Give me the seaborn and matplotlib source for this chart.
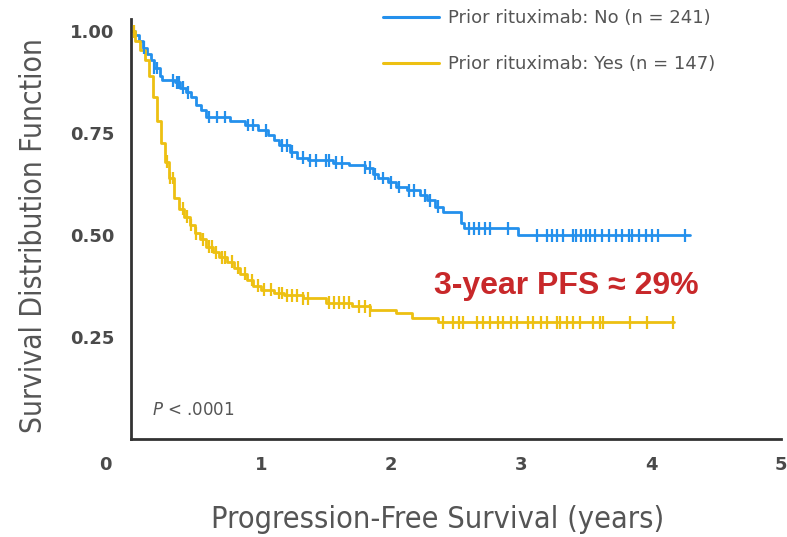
import numpy as np
import pandas as pd
import matplotlib
matplotlib.use("Agg")
import matplotlib.pyplot as plt
from matplotlib import font_manager as fm
import seaborn as sns

# Kaplan-Meier step curves: knot times (years) and survival after each step
no_times = [0.00, 0.03, 0.06, 0.09, 0.12, 0.15, 0.18, 0.22, 0.24, 0.34, 0.38, 0.42,
            0.46, 0.50, 0.54, 0.58, 0.76, 0.88, 0.98, 1.05, 1.10, 1.14, 1.22, 1.28,
            1.36, 1.55, 1.68, 1.80, 1.86, 1.90, 1.98, 2.04, 2.12, 2.22, 2.28, 2.34,
            2.40, 2.54, 2.56, 2.98, 4.30]
no_surv = [1.000, 0.990, 0.975, 0.960, 0.945, 0.930, 0.910, 0.890, 0.880, 0.875, 0.862, 0.850,
           0.838, 0.820, 0.806, 0.790, 0.780, 0.770, 0.757, 0.745, 0.733, 0.720, 0.705, 0.690,
           0.684, 0.678, 0.672, 0.665, 0.650, 0.640, 0.630, 0.618, 0.610, 0.598, 0.585, 0.570,
           0.556, 0.530, 0.517, 0.500, 0.500]

yes_times = [0.00, 0.03, 0.07, 0.11, 0.14, 0.17, 0.20, 0.23, 0.26, 0.29, 0.33, 0.37,
             0.41, 0.45, 0.49, 0.53, 0.58, 0.63, 0.68, 0.74, 0.79, 0.84, 0.89, 0.94,
             1.00, 1.10, 1.18, 1.32, 1.50, 1.70, 1.84, 2.04, 2.16, 2.36, 4.18]
yes_surv = [1.000, 0.975, 0.955, 0.930, 0.890, 0.840, 0.780, 0.725, 0.680, 0.640, 0.590, 0.565,
            0.545, 0.525, 0.505, 0.490, 0.472, 0.458, 0.446, 0.435, 0.420, 0.405, 0.390, 0.376,
            0.366, 0.358, 0.352, 0.345, 0.334, 0.325, 0.316, 0.309, 0.297, 0.286, 0.286]

# Censoring times (years)
no_censor = [0.10, 0.18, 0.20, 0.32, 0.35, 0.37, 0.40, 0.44, 0.60, 0.66, 0.72, 0.90,
             0.94, 1.04, 1.16, 1.20, 1.24, 1.32, 1.38, 1.42, 1.50, 1.52, 1.58, 1.62,
             1.80, 1.84, 1.88, 1.94, 2.00, 2.06, 2.14, 2.18, 2.26, 2.30, 2.36, 2.60,
             2.64, 2.68, 2.72, 2.76, 2.90, 3.12, 3.20, 3.24, 3.28, 3.32, 3.40, 3.42,
             3.46, 3.50, 3.53, 3.57, 3.62, 3.68, 3.73, 3.78, 3.83, 3.85, 3.91, 3.96,
             4.01, 4.05, 4.26]
yes_censor = [0.02, 0.28, 0.30, 0.32, 0.40, 0.43, 0.46, 0.50, 0.55, 0.60, 0.62, 0.65,
              0.70, 0.72, 0.78, 0.82, 0.88, 0.93, 0.98, 1.02, 1.08, 1.14, 1.16, 1.20,
              1.24, 1.28, 1.32, 1.36, 1.52, 1.56, 1.60, 1.64, 1.68, 1.75, 1.80, 1.84,
              2.40, 2.48, 2.52, 2.55, 2.66, 2.71, 2.76, 2.82, 2.86, 2.92, 2.97, 3.05,
              3.09, 3.15, 3.20, 3.28, 3.30, 3.35, 3.40, 3.45, 3.55, 3.61, 3.63, 3.84,
              3.97, 4.17]

groups = ["Prior rituximab: No (n = 241)", "Prior rituximab: Yes (n = 147)"]
colors = ["#2490EC", "#EDC012"]

x_ticks = [1, 2, 3, 4, 5]
y_ticks = [0.25, 0.50, 0.75, 1.00]
y_tick_labels = ["0.25", "0.50", "0.75", "1.00"]


def step_value(times, surv, t):
    idx = np.searchsorted(np.asarray(times), t, side="right") - 1
    return np.asarray(surv)[idx]


curves = pd.concat([
    pd.DataFrame({"time": no_times, "surv": no_surv, "group": groups[0]}),
    pd.DataFrame({"time": yes_times, "surv": yes_surv, "group": groups[1]}),
], ignore_index=True)

marks = pd.concat([
    pd.DataFrame({"time": no_censor,
                  "surv": step_value(no_times, no_surv, no_censor),
                  "group": groups[0]}),
    pd.DataFrame({"time": yes_censor,
                  "surv": step_value(yes_times, yes_surv, yes_censor),
                  "group": groups[1]}),
], ignore_index=True)

sns.set_style("white")

# condensed face for axis titles when available
names = {f.name for f in fm.fontManager.ttflist}
cond_family = "DejaVu Sans"
if "Liberation Sans Narrow" in names:
    cond_family = "Liberation Sans Narrow"
cond_stretch = "condensed"

fig = plt.figure(figsize=(7.87, 5.37), dpi=100)
ax = fig.add_axes([0.1665, 0.1825, 0.826, 0.782])

palette = dict(zip(groups, colors))
sns.lineplot(data=curves, x="time", y="surv", hue="group", palette=palette,
             estimator=None, drawstyle="steps-post", linewidth=2.0, ax=ax)
sns.scatterplot(data=marks, x="time", y="surv", hue="group", palette=palette,
                marker="|", s=85, linewidth=1.6, legend=False, ax=ax, zorder=3)

ax.set_xlim(0, 5)
ax.set_ylim(0, 1.03)
ax.set_xticks(x_ticks)
ax.set_xticklabels([str(v) for v in x_ticks])
ax.set_yticks(y_ticks)
ax.set_yticklabels(y_tick_labels)

for side in ["top", "right"]:
    ax.spines[side].set_visible(False)
for side in ["left", "bottom"]:
    ax.spines[side].set_linewidth(2.0)
    ax.spines[side].set_color("#333333")

ax.tick_params(axis="both", direction="out", length=6, width=1.6, color="#333333",
               labelsize=13, labelcolor="#4a4a4a", pad=6)
for lab in ax.get_xticklabels() + ax.get_yticklabels():
    lab.set_fontweight("bold")

# shared origin label
ax.text(-0.2, -0.064, "0", ha="center", va="center", fontsize=13, fontweight="bold",
        color="#4a4a4a", clip_on=False)

ax.set_xlabel("Progression-Free Survival (years)", fontsize=22, color="#555555",
              family=cond_family, fontstretch=cond_stretch)
ax.set_ylabel("Survival Distribution Function", fontsize=21.5, color="#555555",
              family=cond_family, fontstretch=cond_stretch)
ax.xaxis.set_label_coords(0.471, -0.158)
ax.yaxis.set_label_coords(-0.128, 0.485)

ax.text(0.16, 0.071, r"$\it{P}$ < .0001", ha="left", va="center", fontsize=12,
        color="#555555")

ax.text(3.35, 0.375, "3-year PFS \u2248 29%", ha="center", va="center",
        fontsize=23, fontweight="bold", color="#C8282A", family="Liberation Sans")

leg = ax.legend(loc="upper left", bbox_to_anchor=(383 / 787, 1 - 9 / 537),
                bbox_transform=fig.transFigure, frameon=False, fontsize=13,
                handlelength=3.1, handletextpad=0.5, labelspacing=1.55,
                borderpad=0, borderaxespad=0, title=None)
for txt in leg.get_texts():
    txt.set_color("#555555")
for line in leg.get_lines():
    line.set_linewidth(2.2)

fig.savefig("out.png", dpi=100)
